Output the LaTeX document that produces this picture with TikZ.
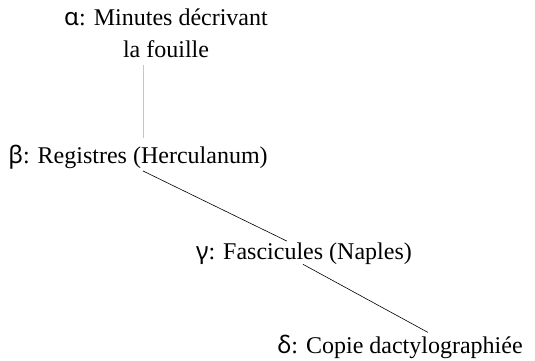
\documentclass[tikz,border=0pt]{standalone}
\usepackage{fontspec}
\setmainfont{Liberation Serif}
\newfontfamily\grk{Noto Sans}
\usepackage{tikz}
\usetikzlibrary{calc, positioning}

\tikzset{
  wit/.style={inner sep=0pt, font=\fontsize{24}{32}\selectfont, anchor=base},
  link/.style={line width=0.6pt},
}

\begin{document}
\begin{tikzpicture}[x=1pt, y=1pt]
\useasboundingbox (0,0) rectangle (535,360);
% témoins
\node[wit, align=center] (alpha) at (166,303) {{\grk α}: Minutes décrivant\\la fouille};
\node[wit] (beta) at (138,197) {{\grk β}: Registres (Herculanum)};
\node[wit] (gamma) at (304,101) {{\grk γ}: Fascicules (Naples)};
\node[wit] (delta) at (400,7) {{\grk δ}: Copie dactylographiée};
% filiation
\draw[link, gray!45] ($(alpha.base)+(-23,-8)$) -- ($(beta.north)+(5,6)$);
\draw[link] ($(beta.south)+(5,-2)$) -- ($(gamma.north)+(-17,1)$);
\draw[link] ($(gamma.south)+(-1,0)$) -- ($(delta.north)+(28,2)$);
\end{tikzpicture}
\end{document}
